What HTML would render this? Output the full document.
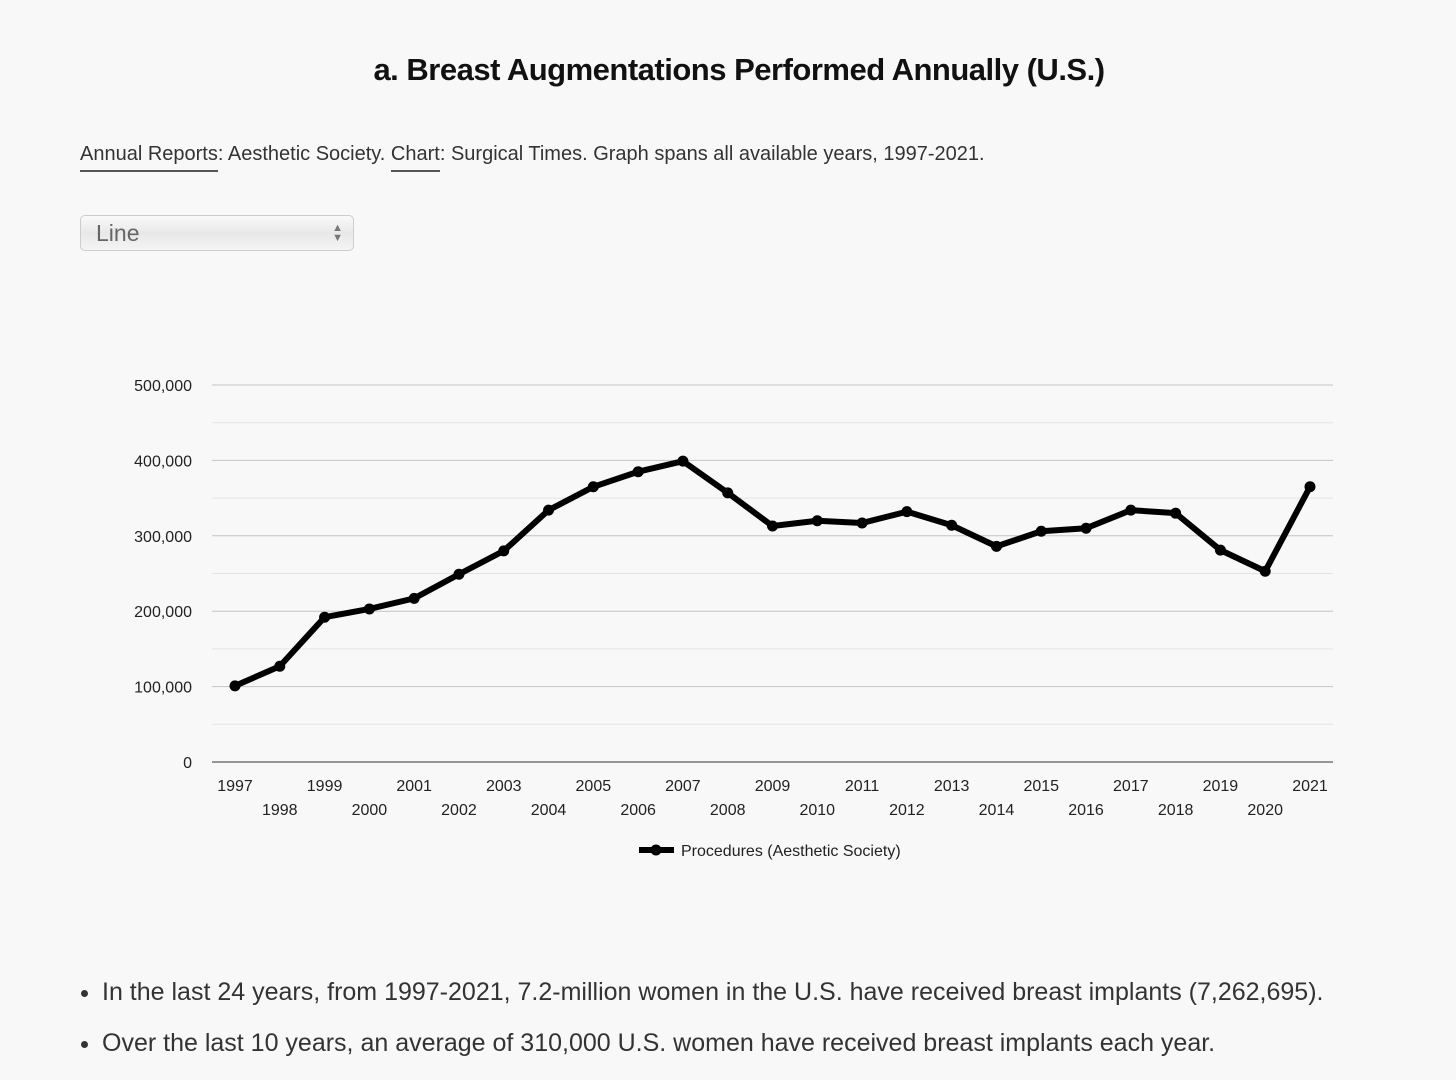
<!DOCTYPE html>
<html><head><meta charset="utf-8"><style>
body{margin:0;width:1456px;height:1076px;background:#f8f8f8;font-family:"Liberation Sans",sans-serif;overflow:hidden;position:relative;color:#222}
.title{position:absolute;top:52px;left:0;width:1478px;text-align:center;font-size:31px;font-weight:bold;color:#111;letter-spacing:-0.5px}
.src{position:absolute;top:143px;left:80px;font-size:20px;color:#333}
.src span.u{border-bottom:2px solid #555;padding-bottom:5px}
.sel{position:absolute;left:80px;top:215px;width:274px;height:36px;border:1px solid #ccc;border-radius:5px;background:linear-gradient(#fafafa,#e8e8e8 50%,#f4f4f4);box-sizing:border-box;font-size:23px;color:#666;padding:4px 15px}
.arr{position:absolute;right:10px;top:7px;font-size:11px;line-height:10px;color:#777}
ul{position:absolute;top:978px;left:62px;margin:0;padding-left:40px;font-size:25px;color:#333}
li{margin-bottom:22px}
</style></head><body>
<div class="title">a. Breast Augmentations Performed Annually (U.S.)</div>
<div class="src"><span class="u">Annual Reports</span>: Aesthetic Society. <span class="u">Chart</span>: Surgical Times. Graph spans all available years, 1997-2021.</div>
<div class="sel">Line<div class="arr">▲<br>▼</div></div>
<svg id="c" width="1456" height="1076" style="position:absolute;left:0;top:0"></svg>
<ul>
<li>In the last 24 years, from 1997-2021, 7.2-million women in the U.S. have received breast implants (7,262,695).</li>
<li>Over the last 10 years, an average of 310,000 U.S. women have received breast implants each year.</li>
</ul>
<script>
const years=[1997,1998,1999,2000,2001,2002,2003,2004,2005,2006,2007,2008,2009,2010,2011,2012,2013,2014,2015,2016,2017,2018,2019,2020,2021];
const values=[101000,127000,192000,203000,217000,249000,280000,334000,365000,385000,399000,357000,313000,320000,317000,332000,314000,286000,306000,310000,334000,330000,281000,253000,365000];
const yTicks=[0,100000,200000,300000,400000,500000];
const yTickLabels=["0","100,000","200,000","300,000","400,000","500,000"];
const svg=document.getElementById('c'),NS='http://www.w3.org/2000/svg';
const x0=235,x1=1310,y0=762,y1=385,L=212,R=1333;
const X=i=>x0+(x1-x0)*i/(years.length-1);
const Y=v=>y0-(y0-y1)*v/500000;
function mk(t,a,txt){const e=document.createElementNS(NS,t);for(const k in a)e.setAttribute(k,a[k]);if(txt!=null)e.textContent=txt;svg.appendChild(e);return e;}
for(let v=50000;v<500000;v+=100000){const g=mk('line',{x1:L,x2:R,y1:Y(v),y2:Y(v),stroke:'#e4e4e4'});}
yTicks.forEach((v,i)=>{
 const g=mk('line',{x1:L,x2:R,y1:Y(v),y2:Y(v),stroke:v===0?'#333':'#c4c4c4'});
 
 const t=mk('text',{x:192,y:Y(v)+6,'text-anchor':'end','font-size':16,fill:'#222'},yTickLabels[i]);
 
});
years.forEach((yr,i)=>{
 const t=mk('text',{x:X(i),y:i%2?815:791,'text-anchor':'middle','font-size':16,fill:'#222'},yr);
 
});
const p=mk('polyline',{points:values.map((v,i)=>X(i)+','+Y(v)).join(' '),fill:'none',stroke:'#000','stroke-width':6,'stroke-linejoin':'round'});

values.forEach((v,i)=>{const c=mk('circle',{cx:X(i),cy:Y(v),r:5.5,fill:'#000'});});
const ll=mk('line',{x1:639,x2:674,y1:850,y2:850,stroke:'#000','stroke-width':6});

const lc=mk('circle',{cx:656,cy:850,r:5.5,fill:'#000'});

const lt=mk('text',{x:681,y:856,'font-size':16,fill:'#222'},'Procedures (Aesthetic Society)');

</script>
</body></html>
